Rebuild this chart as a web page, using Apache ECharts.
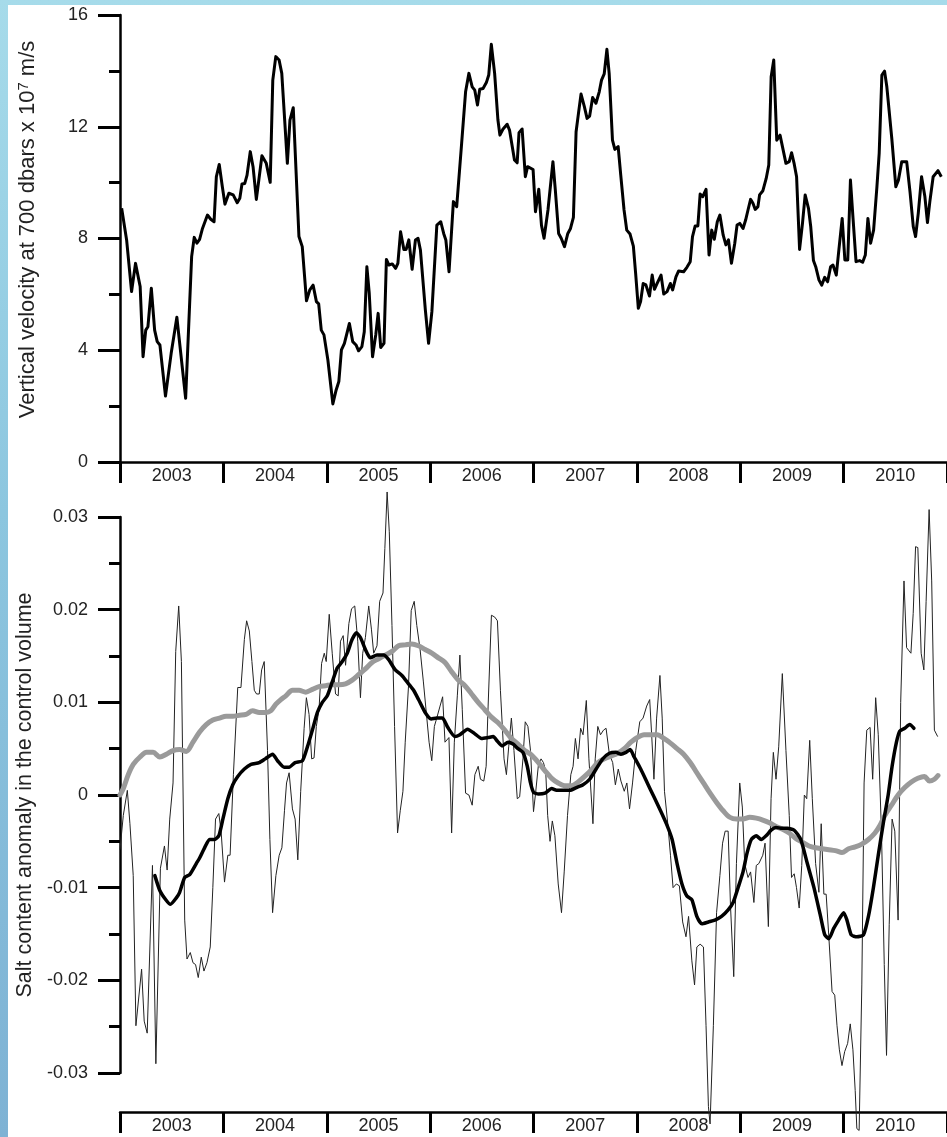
<!DOCTYPE html>
<html>
<head>
<meta charset="utf-8">
<script src="https://cdn.jsdelivr.net/npm/echarts@6/dist/echarts.min.js"></script>
<style>
  html, body { margin: 0; padding: 0; }
  body {
    width: 947px; height: 1137px; position: relative; overflow: hidden;
    background: linear-gradient(180deg, #a6dbea 0%, #8cc6df 45%, #7eb2d4 100%);
  }
  #paper { position: absolute; left: 8px; top: 5px; right: 0; bottom: 0; background: #fff; }
  #chart { position: absolute; left: 0; top: 0; width: 947px; height: 1137px; }
</style>
</head>
<body>
<div id="paper"></div>
<div id="chart"></div>
<script>
const years = ['2003', '2004', '2005', '2006', '2007', '2008', '2009', '2010'];

// vertical velocity at 700 dbars, [decimal year, 10^7 m/s]
const velocity = [
  [2003.016, 9.08], [2003.064, 7.95], [2003.112, 6.10], [2003.150, 7.11], [2003.169, 7.17], [2003.195, 6.28],
  [2003.223, 3.77], [2003.249, 4.72], [2003.270, 4.84], [2003.303, 6.22], [2003.335, 4.72], [2003.360, 4.31],
  [2003.386, 4.19], [2003.440, 2.36], [2003.495, 3.89], [2003.550, 5.18], [2003.635, 2.28], [2003.693, 7.35],
  [2003.718, 8.04], [2003.744, 7.83], [2003.770, 7.97], [2003.798, 8.36], [2003.846, 8.84], [2003.878, 8.69],
  [2003.910, 8.60], [2003.932, 10.21], [2003.960, 10.65], [2003.990, 9.85], [2004.015, 9.23], [2004.053, 9.62],
  [2004.095, 9.56], [2004.134, 9.28], [2004.159, 9.44], [2004.180, 9.95], [2004.207, 9.97], [2004.229, 10.27],
  [2004.260, 11.11], [2004.287, 10.57], [2004.319, 9.40], [2004.373, 10.96], [2004.415, 10.69], [2004.453, 10.01],
  [2004.478, 13.67], [2004.507, 14.51], [2004.539, 14.39], [2004.565, 13.91], [2004.619, 10.69], [2004.644, 12.24],
  [2004.676, 12.68], [2004.731, 8.07], [2004.763, 7.71], [2004.804, 5.77], [2004.836, 6.16], [2004.868, 6.33],
  [2004.900, 5.74], [2004.922, 5.66], [2004.947, 4.72], [2004.973, 4.55], [2005.011, 3.65], [2005.059, 2.08],
  [2005.091, 2.58], [2005.117, 2.88], [2005.142, 4.01], [2005.171, 4.25], [2005.219, 4.96], [2005.251, 4.31],
  [2005.283, 4.19], [2005.308, 3.98], [2005.340, 4.13], [2005.363, 4.66], [2005.388, 6.99], [2005.411, 6.04],
  [2005.443, 3.77], [2005.474, 4.55], [2005.497, 5.32], [2005.522, 4.10], [2005.554, 4.25], [2005.577, 7.25],
  [2005.602, 7.05], [2005.634, 7.09], [2005.666, 6.93], [2005.688, 7.11], [2005.714, 8.24], [2005.746, 7.61],
  [2005.768, 7.61], [2005.794, 7.95], [2005.826, 6.90], [2005.858, 7.95], [2005.883, 8.01], [2005.906, 7.59],
  [2005.954, 5.44], [2005.985, 4.25], [2006.017, 5.38], [2006.065, 8.48], [2006.103, 8.60], [2006.131, 8.18],
  [2006.152, 7.95], [2006.183, 6.81], [2006.225, 9.32], [2006.257, 9.14], [2006.305, 11.41], [2006.343, 13.25],
  [2006.375, 13.91], [2006.407, 13.43], [2006.432, 13.31], [2006.458, 12.78], [2006.480, 13.34], [2006.512, 13.37],
  [2006.544, 13.58], [2006.567, 13.85], [2006.592, 14.95], [2006.624, 13.91], [2006.656, 12.24], [2006.675, 11.70],
  [2006.704, 11.91], [2006.745, 12.09], [2006.768, 11.88], [2006.816, 10.81], [2006.842, 10.71], [2006.860, 11.79],
  [2006.890, 11.92], [2006.921, 10.21], [2006.943, 10.57], [2006.996, 10.47], [2007.019, 8.96], [2007.051, 9.76],
  [2007.077, 8.48], [2007.102, 8.01], [2007.140, 9.02], [2007.188, 10.75], [2007.211, 9.74], [2007.243, 8.18],
  [2007.268, 8.01], [2007.300, 7.71], [2007.332, 8.18], [2007.358, 8.36], [2007.386, 8.76], [2007.412, 11.82],
  [2007.435, 12.48], [2007.460, 13.17], [2007.492, 12.72], [2007.518, 12.30], [2007.543, 12.38], [2007.572, 13.05],
  [2007.604, 12.84], [2007.636, 13.25], [2007.658, 13.67], [2007.684, 13.89], [2007.710, 14.77], [2007.732, 13.91],
  [2007.764, 11.52], [2007.787, 11.19], [2007.819, 11.29], [2007.844, 10.27], [2007.876, 9.02], [2007.902, 8.30],
  [2007.934, 8.16], [2007.966, 7.73], [2007.988, 6.75], [2008.014, 5.50], [2008.036, 5.74], [2008.061, 6.39],
  [2008.087, 6.34], [2008.122, 5.94], [2008.148, 6.69], [2008.170, 6.18], [2008.196, 6.39], [2008.234, 6.69],
  [2008.260, 6.01], [2008.292, 6.10], [2008.324, 6.39], [2008.346, 6.16], [2008.378, 6.63], [2008.404, 6.84],
  [2008.452, 6.81], [2008.484, 6.97], [2008.516, 7.17], [2008.538, 8.07], [2008.564, 8.45], [2008.590, 8.45],
  [2008.612, 9.59], [2008.637, 9.50], [2008.669, 9.76], [2008.698, 7.41], [2008.724, 8.30], [2008.749, 7.97],
  [2008.778, 8.60], [2008.803, 8.84], [2008.835, 8.12], [2008.861, 7.77], [2008.886, 7.95], [2008.915, 7.11],
  [2008.947, 7.83], [2008.969, 8.48], [2008.995, 8.54], [2009.027, 8.36], [2009.052, 8.66], [2009.075, 9.02],
  [2009.100, 9.40], [2009.123, 9.26], [2009.145, 9.04], [2009.171, 9.14], [2009.187, 9.56], [2009.219, 9.71],
  [2009.251, 10.15], [2009.276, 10.63], [2009.299, 13.79], [2009.324, 14.39], [2009.353, 11.52], [2009.385, 11.70],
  [2009.442, 10.69], [2009.474, 10.75], [2009.497, 11.07], [2009.522, 10.67], [2009.545, 10.21], [2009.574, 7.61],
  [2009.602, 8.54], [2009.628, 9.56], [2009.660, 9.08], [2009.682, 8.42], [2009.708, 7.21], [2009.730, 6.99],
  [2009.762, 6.51], [2009.788, 6.33], [2009.817, 6.61], [2009.845, 6.45], [2009.874, 6.99], [2009.897, 7.05],
  [2009.929, 6.69], [2009.954, 7.59], [2009.986, 8.72], [2010.012, 7.23], [2010.040, 7.23], [2010.066, 10.09],
  [2010.091, 8.72], [2010.120, 7.17], [2010.155, 7.21], [2010.184, 7.15], [2010.210, 7.41], [2010.235, 8.72],
  [2010.261, 7.83], [2010.290, 8.30], [2010.322, 9.85], [2010.344, 11.05], [2010.370, 13.85], [2010.396, 13.99],
  [2010.418, 13.43], [2010.466, 11.58], [2010.505, 9.85], [2010.530, 10.09], [2010.562, 10.75], [2010.610, 10.75],
  [2010.642, 9.68], [2010.674, 8.42], [2010.696, 8.07], [2010.722, 8.90], [2010.754, 10.21], [2010.786, 9.50],
  [2010.811, 8.57], [2010.834, 9.32], [2010.866, 10.21], [2010.913, 10.43], [2010.945, 10.21]
];

// salt content anomaly, raw (thin line)
const saltRaw = [
  [2003.000, -0.0059], [2003.032, -0.0022], [2003.071, 0.0005], [2003.096, -0.0031], [2003.128, -0.0087],
  [2003.154, -0.0249], [2003.209, -0.0188], [2003.234, -0.0244], [2003.263, -0.0257], [2003.314, -0.0076],
  [2003.347, -0.0290], [2003.391, -0.0079], [2003.430, -0.0055], [2003.456, -0.0081], [2003.481, -0.0026],
  [2003.513, 0.0013], [2003.539, 0.0155], [2003.568, 0.0204], [2003.594, 0.0144], [2003.626, -0.0135],
  [2003.648, -0.0177], [2003.680, -0.0170], [2003.706, -0.0181], [2003.731, -0.0183], [2003.757, -0.0197],
  [2003.786, -0.0175], [2003.812, -0.0190], [2003.841, -0.0181], [2003.873, -0.0164], [2003.898, -0.0100],
  [2003.924, -0.0026], [2003.956, -0.0020], [2003.978, -0.0039], [2004.011, -0.0094], [2004.043, -0.0065],
  [2004.065, -0.0065], [2004.097, 0.0022], [2004.139, 0.0116], [2004.170, 0.0116], [2004.203, 0.0168],
  [2004.225, 0.0188], [2004.251, 0.0177], [2004.276, 0.0144], [2004.299, 0.0113], [2004.321, 0.0109],
  [2004.347, 0.0109], [2004.370, 0.0135], [2004.395, 0.0144], [2004.427, 0.0048], [2004.450, -0.0048],
  [2004.476, -0.0127], [2004.508, -0.0087], [2004.540, -0.0065], [2004.566, -0.0057], [2004.591, -0.0017],
  [2004.611, 0.0013], [2004.636, 0.0024], [2004.668, -0.0015], [2004.694, -0.0026], [2004.720, -0.0070],
  [2004.748, 0.0004], [2004.781, 0.0072], [2004.803, 0.0105], [2004.829, 0.0087], [2004.854, 0.0039],
  [2004.877, 0.0040], [2004.899, 0.0074], [2004.925, 0.0092], [2004.950, 0.0142], [2004.976, 0.0153],
  [2004.995, 0.0144], [2005.024, 0.0195], [2005.053, 0.0153], [2005.085, 0.0109], [2005.111, 0.0107],
  [2005.133, 0.0166], [2005.159, 0.0172], [2005.182, 0.0140], [2005.214, 0.0185], [2005.240, 0.0201],
  [2005.271, 0.0204], [2005.300, 0.0166], [2005.326, 0.0105], [2005.348, 0.0153], [2005.374, 0.0170],
  [2005.406, 0.0204], [2005.432, 0.0179], [2005.454, 0.0153], [2005.486, 0.0161], [2005.512, 0.0209],
  [2005.544, 0.0218], [2005.562, 0.0266], [2005.584, 0.0327], [2005.605, 0.0284], [2005.631, 0.0183],
  [2005.656, 0.0074], [2005.685, -0.0041], [2005.711, -0.0017], [2005.737, 0.0004], [2005.759, 0.0057],
  [2005.791, 0.0118], [2005.817, 0.0199], [2005.846, 0.0209], [2005.871, 0.0183], [2005.903, 0.0157],
  [2005.935, 0.0122], [2005.968, 0.0083], [2005.990, 0.0057], [2006.016, 0.0037], [2006.041, 0.0074],
  [2006.064, 0.0083], [2006.096, 0.0096], [2006.121, 0.0106], [2006.144, 0.0057], [2006.160, 0.0055],
  [2006.182, 0.0062], [2006.208, -0.0041], [2006.234, 0.0057], [2006.263, 0.0107], [2006.288, 0.0151],
  [2006.311, 0.0092], [2006.343, 0.0002], [2006.375, 0.0000], [2006.407, -0.0011], [2006.433, 0.0022],
  [2006.465, 0.0031], [2006.487, 0.0017], [2006.519, 0.0015], [2006.542, 0.0031], [2006.561, 0.0096],
  [2006.593, 0.0194], [2006.625, 0.0192], [2006.651, 0.0188], [2006.680, 0.0113], [2006.715, 0.0039],
  [2006.738, 0.0022], [2006.760, 0.0052], [2006.786, 0.0083], [2006.811, 0.0048], [2006.843, -0.0004],
  [2006.866, -0.0002], [2006.898, 0.0039], [2006.920, 0.0079], [2006.946, 0.0074], [2006.971, 0.0048],
  [2007.000, -0.0018], [2007.022, 0.0004], [2007.048, 0.0033], [2007.073, 0.0039], [2007.096, 0.0035],
  [2007.118, 0.0026], [2007.137, -0.0022], [2007.160, -0.0050], [2007.182, -0.0028], [2007.207, -0.0044],
  [2007.239, -0.0096], [2007.271, -0.0127], [2007.297, -0.0083], [2007.329, -0.0022], [2007.361, 0.0022],
  [2007.383, 0.0031], [2007.405, 0.0061], [2007.431, 0.0039], [2007.456, 0.0072], [2007.479, 0.0065],
  [2007.511, 0.0102], [2007.536, 0.0039], [2007.575, -0.0031], [2007.597, 0.0039], [2007.622, 0.0074],
  [2007.648, 0.0065], [2007.677, 0.0070], [2007.702, 0.0072], [2007.734, 0.0044], [2007.766, 0.0035],
  [2007.792, 0.0011], [2007.820, 0.0028], [2007.846, 0.0015], [2007.878, 0.0004], [2007.903, 0.0013],
  [2007.929, -0.0015], [2007.958, 0.0013], [2007.989, 0.0048], [2008.028, 0.0079], [2008.060, 0.0083],
  [2008.095, 0.0096], [2008.124, 0.0103], [2008.143, 0.0065], [2008.165, 0.0017], [2008.191, 0.0083],
  [2008.223, 0.0129], [2008.245, 0.0083], [2008.267, 0.0004], [2008.299, -0.0031], [2008.325, -0.0065],
  [2008.350, -0.0100], [2008.382, -0.0096], [2008.411, -0.0098], [2008.443, -0.0137], [2008.475, -0.0153],
  [2008.500, -0.0131], [2008.532, -0.0179], [2008.558, -0.0205], [2008.580, -0.0164], [2008.612, -0.0161],
  [2008.644, -0.0164], [2008.669, -0.0249], [2008.692, -0.0336], [2008.708, -0.0355], [2008.740, -0.0249],
  [2008.771, -0.0127], [2008.803, -0.0087], [2008.829, -0.0052], [2008.854, -0.0039], [2008.883, -0.0039],
  [2008.905, -0.0118], [2008.937, -0.0196], [2008.963, -0.0074], [2008.995, 0.0013], [2009.020, -0.0013],
  [2009.043, -0.0074], [2009.075, -0.0089], [2009.100, -0.0083], [2009.132, -0.0116], [2009.155, -0.0076],
  [2009.180, -0.0074], [2009.218, -0.0065], [2009.240, -0.0052], [2009.272, -0.0142], [2009.298, -0.0004],
  [2009.320, 0.0046], [2009.346, 0.0017], [2009.372, 0.0052], [2009.407, 0.0131], [2009.442, 0.0048],
  [2009.474, -0.0022], [2009.496, -0.0089], [2009.522, -0.0085], [2009.544, -0.0100], [2009.570, -0.0122],
  [2009.595, -0.0076], [2009.620, 0.0000], [2009.643, -0.0004], [2009.672, 0.0059], [2009.697, -0.0004],
  [2009.729, -0.0074], [2009.761, -0.0105], [2009.783, -0.0031], [2009.809, -0.0107], [2009.831, -0.0107],
  [2009.857, -0.0153], [2009.888, -0.0212], [2009.914, -0.0216], [2009.936, -0.0249], [2009.959, -0.0275],
  [2009.984, -0.0292], [2010.010, -0.0277], [2010.039, -0.0268], [2010.064, -0.0247], [2010.090, -0.0275],
  [2010.112, -0.0319], [2010.128, -0.0360], [2010.150, -0.0362], [2010.176, -0.0205], [2010.198, 0.0013],
  [2010.224, 0.0070], [2010.256, 0.0073], [2010.281, 0.0017], [2010.310, 0.0105], [2010.335, 0.0065],
  [2010.367, -0.0044], [2010.393, -0.0183], [2010.415, -0.0281], [2010.441, -0.0140], [2010.469, -0.0026],
  [2010.495, -0.0039], [2010.527, -0.0135], [2010.552, 0.0100], [2010.584, 0.0231], [2010.609, 0.0159],
  [2010.651, 0.0153], [2010.673, 0.0196], [2010.696, 0.0268], [2010.718, 0.0267], [2010.750, 0.0153],
  [2010.776, 0.0135], [2010.798, 0.0209], [2010.827, 0.0308], [2010.852, 0.0231], [2010.878, 0.0070],
  [2010.910, 0.0063]
];

// running mean (thick black)
const saltMean = [
  [2003.337, -0.0087], [2003.385, -0.0103], [2003.443, -0.0113], [2003.488, -0.0118], [2003.545, -0.0111],
  [2003.577, -0.0105], [2003.626, -0.0089], [2003.674, -0.0086], [2003.738, -0.0074], [2003.770, -0.0068],
  [2003.818, -0.0057], [2003.866, -0.0048], [2003.914, -0.0048], [2003.956, -0.0044], [2003.995, -0.0026],
  [2004.043, -0.0004], [2004.091, 0.0011], [2004.139, 0.0020], [2004.203, 0.0028], [2004.267, 0.0033],
  [2004.347, 0.0035], [2004.405, 0.0039], [2004.476, 0.0044], [2004.524, 0.0037], [2004.588, 0.0030],
  [2004.636, 0.0030], [2004.694, 0.0035], [2004.765, 0.0037], [2004.813, 0.0052], [2004.861, 0.0070],
  [2004.909, 0.0089], [2004.957, 0.0100], [2005.005, 0.0107], [2005.053, 0.0122], [2005.101, 0.0137],
  [2005.150, 0.0144], [2005.198, 0.0153], [2005.246, 0.0168], [2005.287, 0.0175], [2005.326, 0.0170],
  [2005.374, 0.0157], [2005.422, 0.0148], [2005.486, 0.0151], [2005.550, 0.0151], [2005.599, 0.0146],
  [2005.663, 0.0135], [2005.727, 0.0129], [2005.791, 0.0120], [2005.840, 0.0113], [2005.888, 0.0103],
  [2005.952, 0.0089], [2006.010, 0.0082], [2006.064, 0.0083], [2006.119, 0.0083], [2006.170, 0.0073],
  [2006.240, 0.0063], [2006.288, 0.0065], [2006.362, 0.0071], [2006.433, 0.0066], [2006.497, 0.0061],
  [2006.561, 0.0062], [2006.610, 0.0063], [2006.651, 0.0058], [2006.696, 0.0053], [2006.754, 0.0057],
  [2006.802, 0.0055], [2006.850, 0.0050], [2006.898, 0.0046], [2006.940, 0.0031], [2006.971, 0.0013],
  [2007.000, 0.0003], [2007.048, 0.0001], [2007.112, 0.0002], [2007.176, 0.0007], [2007.223, 0.0005],
  [2007.287, 0.0005], [2007.351, 0.0005], [2007.415, 0.0008], [2007.479, 0.0011], [2007.543, 0.0017],
  [2007.606, 0.0028], [2007.670, 0.0039], [2007.734, 0.0045], [2007.798, 0.0046], [2007.846, 0.0044],
  [2007.894, 0.0046], [2007.935, 0.0049], [2007.974, 0.0041], [2008.037, 0.0028], [2008.101, 0.0013],
  [2008.165, -0.0002], [2008.229, -0.0017], [2008.293, -0.0033], [2008.341, -0.0048], [2008.389, -0.0074],
  [2008.436, -0.0096], [2008.484, -0.0109], [2008.532, -0.0113], [2008.580, -0.0131], [2008.628, -0.0139],
  [2008.692, -0.0137], [2008.755, -0.0135], [2008.819, -0.0131], [2008.883, -0.0124], [2008.931, -0.0116],
  [2008.979, -0.0100], [2009.027, -0.0083], [2009.065, -0.0063], [2009.107, -0.0048], [2009.155, -0.0044],
  [2009.202, -0.0048], [2009.250, -0.0044], [2009.298, -0.0038], [2009.346, -0.0035], [2009.403, -0.0036],
  [2009.458, -0.0036], [2009.522, -0.0038], [2009.585, -0.0048], [2009.649, -0.0074], [2009.713, -0.0100],
  [2009.777, -0.0131], [2009.818, -0.0151], [2009.857, -0.0155], [2009.904, -0.0144], [2009.952, -0.0135],
  [2010.000, -0.0127], [2010.032, -0.0135], [2010.074, -0.0151], [2010.128, -0.0153], [2010.192, -0.0151],
  [2010.240, -0.0131], [2010.288, -0.0100], [2010.335, -0.0065], [2010.383, -0.0031], [2010.431, 0.0000],
  [2010.469, 0.0031], [2010.511, 0.0057], [2010.543, 0.0069], [2010.591, 0.0072], [2010.639, 0.0076],
  [2010.680, 0.0072]
];

// long-term trend (thick grey)
const saltTrend = [
  [2003.000, 0.0000], [2003.032, 0.0007], [2003.080, 0.0022], [2003.128, 0.0033], [2003.193, 0.0041],
  [2003.257, 0.0046], [2003.321, 0.0046], [2003.385, 0.0041], [2003.449, 0.0044], [2003.513, 0.0048],
  [2003.577, 0.0049], [2003.642, 0.0047], [2003.706, 0.0057], [2003.770, 0.0068], [2003.834, 0.0076],
  [2003.898, 0.0081], [2003.962, 0.0083], [2004.027, 0.0085], [2004.091, 0.0085], [2004.155, 0.0086],
  [2004.219, 0.0087], [2004.283, 0.0091], [2004.347, 0.0089], [2004.412, 0.0089], [2004.460, 0.0091],
  [2004.508, 0.0098], [2004.556, 0.0103], [2004.604, 0.0107], [2004.668, 0.0113], [2004.732, 0.0113],
  [2004.797, 0.0111], [2004.861, 0.0114], [2004.925, 0.0117], [2004.989, 0.0118], [2005.053, 0.0119],
  [2005.117, 0.0119], [2005.182, 0.0120], [2005.246, 0.0124], [2005.310, 0.0130], [2005.374, 0.0136],
  [2005.438, 0.0143], [2005.502, 0.0147], [2005.566, 0.0151], [2005.631, 0.0155], [2005.695, 0.0161],
  [2005.759, 0.0162], [2005.823, 0.0163], [2005.887, 0.0161], [2005.952, 0.0157], [2006.016, 0.0153],
  [2006.080, 0.0148], [2006.144, 0.0143], [2006.208, 0.0133], [2006.272, 0.0124], [2006.337, 0.0118],
  [2006.401, 0.0109], [2006.465, 0.0100], [2006.529, 0.0092], [2006.593, 0.0084], [2006.658, 0.0078],
  [2006.722, 0.0070], [2006.786, 0.0061], [2006.850, 0.0055], [2006.914, 0.0048], [2006.971, 0.0044],
  [2007.048, 0.0035], [2007.112, 0.0026], [2007.176, 0.0018], [2007.239, 0.0013], [2007.303, 0.0010],
  [2007.367, 0.0010], [2007.431, 0.0014], [2007.495, 0.0020], [2007.559, 0.0027], [2007.622, 0.0035],
  [2007.686, 0.0039], [2007.750, 0.0042], [2007.814, 0.0045], [2007.878, 0.0050], [2007.942, 0.0057],
  [2008.005, 0.0062], [2008.069, 0.0065], [2008.133, 0.0065], [2008.197, 0.0065], [2008.261, 0.0061],
  [2008.325, 0.0056], [2008.389, 0.0050], [2008.452, 0.0044], [2008.516, 0.0035], [2008.580, 0.0024],
  [2008.644, 0.0013], [2008.708, 0.0002], [2008.771, -0.0008], [2008.835, -0.0017], [2008.899, -0.0024],
  [2008.963, -0.0026], [2009.027, -0.0026], [2009.091, -0.0024], [2009.155, -0.0025], [2009.218, -0.0027],
  [2009.282, -0.0030], [2009.346, -0.0034], [2009.410, -0.0037], [2009.474, -0.0041], [2009.537, -0.0047],
  [2009.601, -0.0051], [2009.665, -0.0055], [2009.729, -0.0057], [2009.793, -0.0058], [2009.857, -0.0059],
  [2009.920, -0.0060], [2009.984, -0.0062], [2010.048, -0.0058], [2010.112, -0.0056], [2010.176, -0.0053],
  [2010.240, -0.0048], [2010.303, -0.0041], [2010.351, -0.0033], [2010.399, -0.0022], [2010.463, -0.0011],
  [2010.527, 0.0000], [2010.591, 0.0008], [2010.655, 0.0014], [2010.718, 0.0018], [2010.782, 0.0020],
  [2010.830, 0.0015], [2010.878, 0.0017], [2010.913, 0.0021]
];

const font = 'Liberation Sans, Arial, sans-serif';
const ink = '#000';
const textInk = '#222';

function yearAxis(gridIndex, offset) {
  return {
    type: 'category',
    gridIndex: gridIndex,
    position: 'bottom',
    offset: offset,
    data: years,
    boundaryGap: true,
    axisLine: { show: true, onZero: false, lineStyle: { color: ink, width: 2.5 } },
    axisTick: { show: true, length: 21, lineStyle: { color: ink, width: 3 } },
    axisLabel: { margin: 5, fontSize: 18, color: textInk, fontFamily: font },
    splitLine: { show: false }
  };
}

function timeAxis(gridIndex) {
  return { type: 'value', gridIndex: gridIndex, min: 2003, max: 2011, show: false, splitLine: { show: false } };
}

function valueAxis(gridIndex, opts) {
  return Object.assign({
    type: 'value',
    gridIndex: gridIndex,
    nameLocation: 'middle',
    nameRotate: 90,
    nameGap: 81,
    axisLine: { show: true, onZero: false, lineStyle: { color: ink, width: 2.5 } },
    axisTick: { show: true, length: 22, lineStyle: { color: ink, width: 3 } },
    minorTick: { show: true, splitNumber: 2, length: 11, lineStyle: { color: ink, width: 3 } },
    splitLine: { show: false },
    minorSplitLine: { show: false },
    axisLabel: { margin: 32, fontSize: 18, color: textInk, fontFamily: font }
  }, opts);
}

const chart = echarts.init(document.getElementById('chart'), null, { renderer: 'canvas' });
chart.setOption({
  backgroundColor: 'transparent',
  animation: false,
  grid: [
    { left: 120, top: 15, width: 835, height: 447 },
    { left: 120, top: 517, width: 835, height: 556 }
  ],
  xAxis: [
    yearAxis(0, 0),
    timeAxis(0),
    yearAxis(1, 39),
    timeAxis(1)
  ],
  yAxis: [
    valueAxis(0, {
      min: 0, max: 16, interval: 4,
      name: 'Vertical velocity at 700 dbars x 10{sup|7} m/s',
      nameTextStyle: {
        fontSize: 22, color: textInk, fontFamily: font, padding: [0, 0, 0, 18],
        rich: { sup: { fontSize: 15, fontFamily: font, color: textInk, verticalAlign: 'top', padding: [0, 0, 8, 0] } }
      }
    }),
    valueAxis(1, {
      min: -0.03, max: 0.03, interval: 0.01,
      name: 'Salt content anomaly in the control volume',
      nameTextStyle: { fontSize: 21.5, color: textInk, fontFamily: font },
      axisLabel: {
        margin: 32, fontSize: 18, color: textInk, fontFamily: font,
        formatter: function (v) { return Math.abs(v) < 1e-9 ? '0' : v.toFixed(2); }
      }
    })
  ],
  series: [
    {
      type: 'line', xAxisIndex: 1, yAxisIndex: 0, data: velocity,
      showSymbol: false, clip: false,
      lineStyle: { color: ink, width: 3, join: 'round' }
    },
    {
      type: 'line', xAxisIndex: 3, yAxisIndex: 1, data: saltRaw,
      showSymbol: false, clip: false,
      lineStyle: { color: '#222', width: 1 }
    },
    {
      type: 'line', xAxisIndex: 3, yAxisIndex: 1, data: saltTrend,
      showSymbol: false, clip: false, smooth: 0.3,
      lineStyle: { color: '#9a9a9a', width: 5, cap: 'round' }
    },
    {
      type: 'line', xAxisIndex: 3, yAxisIndex: 1, data: saltMean,
      showSymbol: false, clip: false, smooth: 0.2,
      lineStyle: { color: ink, width: 3.5, cap: 'round', join: 'round' }
    }
  ]
});
</script>
</body>
</html>
